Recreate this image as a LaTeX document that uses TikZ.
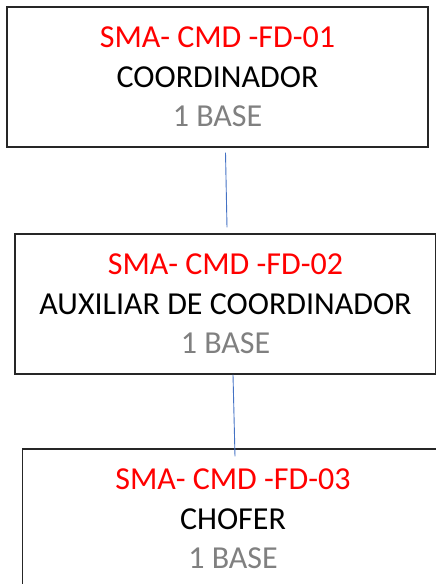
\documentclass[tikz,border=0pt]{standalone}
\usepackage{fontspec}
\setmainfont{Carlito}
\usepackage{xcolor}
\usetikzlibrary{positioning}

\definecolor{codered}{RGB}{255,0,0}
\definecolor{basegray}{RGB}{128,128,128}
\definecolor{linkblue}{RGB}{68,114,196}

\newcommand{\puesto}[3]{{\color{codered}#1}\\#2\\{\color{basegray}#3}}

\begin{document}
\begin{tikzpicture}[x=1pt, y=-1pt,
					post box/.style={draw=black!85, line width=1.1pt, minimum width=421pt, minimum height=140pt, align=center, inner sep=0pt, font=\fontsize{32}{39.5}\selectfont},
					post link/.style={draw=linkblue, line width=0.9pt},
				]
					\useasboundingbox (0,0) rectangle (436,584);
					\clip (0,0) rectangle (436,584);
					
					\node[post box] (coord) at (217.5,77) {\puesto{SMA- CMD -FD-01}{COORDINADOR}{1 BASE}};
					\node[post box] (aux) at (225.5,304) {\puesto{SMA- CMD -FD-02}{AUXILIAR DE COORDINADOR}{1 BASE}};
					\node[post box] (chofer) at (233,519) {\puesto{SMA- CMD -FD-03}{CHOFER}{1 BASE}};
					
					\draw[post link] ([xshift=8pt,yshift=-5pt]coord.south) -- ([xshift=1.5pt,yshift=6pt]aux.north);
					\draw[post link] ([xshift=7.5pt]aux.south) -- ([xshift=2pt,yshift=-8pt]chofer.north);
				\end{tikzpicture}
\end{document}
